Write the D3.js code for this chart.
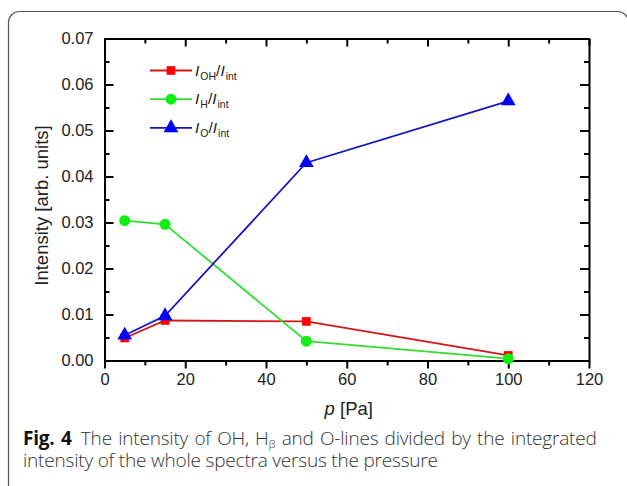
<!DOCTYPE html>
<html>
<head>
<meta charset="utf-8">
<script src="https://cdn.jsdelivr.net/npm/d3@7"></script>
<style>
  body { margin: 0; background: #fff; }
  svg { display: block; }
</style>
</head>
<body>
<div id="chart"></div>
<script>
// pressure values and the three ratio series
var pressure = [5, 15, 50, 100];
var ohInt = [0.0049, 0.0087, 0.0085, 0.0011];
var hInt = [0.0304, 0.0296, 0.0042, 0.0004];
var oInt = [0.0055, 0.0097, 0.0430, 0.0564];

var xTicks = [0, 20, 40, 60, 80, 100, 120];
var yTicks = [0, 0.01, 0.02, 0.03, 0.04, 0.05, 0.06, 0.07];

var width = 627, height = 486;
var margin = { top: 38.5, right: 38, bottom: 125.5, left: 104.5 };

var svg = d3.select("#chart").append("svg")
    .attr("width", width)
    .attr("height", height);

// rounded frame around figure
svg.append("rect")
    .attr("x", 8.5).attr("y", 11.5)
    .attr("width", 620).attr("height", 500)
    .attr("rx", 11)
    .attr("fill", "none")
    .attr("stroke", "#555")
    .attr("stroke-width", 1.2);

var x = d3.scaleLinear().domain([0, 120]).range([margin.left, width - margin.right]);
var y = d3.scaleLinear().domain([0, 0.07]).range([height - margin.bottom, margin.top]);

var fmt = d3.format(".2f");
var tickFont = "'Liberation Sans', Arial, sans-serif";

// minor ticks are halfway between majors
var xMinor = d3.range(10, 120, 20);
var yMinor = d3.range(0.005, 0.07, 0.01);

function styleAxis(g) {
    g.selectAll("path").attr("stroke", "#000").attr("stroke-width", 2);
    g.selectAll("line").attr("stroke", "#000").attr("stroke-width", 2);
    g.selectAll("text").attr("font-family", tickFont).attr("font-size", 16.5).attr("fill", "#222");
}

// bottom axis, ticks outward
svg.append("g")
    .attr("transform", "translate(0," + y(0) + ")")
    .call(d3.axisBottom(x).tickValues(xTicks).tickSize(8).tickSizeOuter(0).tickPadding(5))
    .call(styleAxis);
svg.append("g")
    .attr("transform", "translate(0," + y(0) + ")")
    .call(d3.axisBottom(x).tickValues(xMinor).tickSize(5).tickFormat(""))
    .call(styleAxis)
    .select("path").remove();

// top axis, ticks inward
svg.append("g")
    .attr("transform", "translate(0," + y(0.07) + ")")
    .call(d3.axisTop(x).tickValues(xTicks).tickSize(-8).tickSizeOuter(0).tickFormat(""))
    .call(styleAxis);
svg.append("g")
    .attr("transform", "translate(0," + y(0.07) + ")")
    .call(d3.axisTop(x).tickValues(xMinor).tickSize(-5).tickFormat(""))
    .call(styleAxis)
    .select("path").remove();

// left axis, ticks inward
svg.append("g")
    .attr("transform", "translate(" + x(0) + ",0)")
    .call(d3.axisLeft(y).tickValues(yTicks).tickFormat(fmt).tickSize(-9).tickSizeOuter(0).tickPadding(11))
    .call(styleAxis);
svg.append("g")
    .attr("transform", "translate(" + x(0) + ",0)")
    .call(d3.axisLeft(y).tickValues(yMinor).tickSize(-5).tickFormat(""))
    .call(styleAxis)
    .select("path").remove();

// right axis, ticks inward
svg.append("g")
    .attr("transform", "translate(" + x(120) + ",0)")
    .call(d3.axisRight(y).tickValues(yTicks).tickSize(-9).tickSizeOuter(0).tickFormat(""))
    .call(styleAxis);
svg.append("g")
    .attr("transform", "translate(" + x(120) + ",0)")
    .call(d3.axisRight(y).tickValues(yMinor).tickSize(-5).tickFormat(""))
    .call(styleAxis)
    .select("path").remove();

// axis titles
svg.append("text")
    .attr("transform", "translate(48," + ((y(0) + y(0.07)) / 2 + 6) + ") rotate(-90)")
    .attr("text-anchor", "middle")
    .attr("font-family", tickFont)
    .attr("font-size", 18.5)
    .attr("fill", "#222")
    .text("Intensity [arb. units]");

var xt = svg.append("text")
    .attr("x", (x(0) + x(120)) / 2 + 2)
    .attr("y", 415)
    .attr("text-anchor", "middle")
    .attr("font-family", tickFont)
    .attr("font-size", 18.5)
    .attr("fill", "#222");
xt.append("tspan").attr("font-style", "italic").text("p");
xt.append("tspan").text(" [Pa]");

var series = [
    { name: "OH", values: ohInt, line: "#d01818", fill: "#ff0000", shape: d3.symbolSquare, size: 75 },
    { name: "H", values: hInt, line: "#33dd33", fill: "#11ee11", shape: d3.symbolCircle, size: 95 },
    { name: "O", values: oInt, line: "#1515c0", fill: "#0000ff", shape: d3.symbolTriangle, size: 95 }
];

var line = d3.line()
    .x(function (d) { return x(d[0]); })
    .y(function (d) { return y(d[1]); });

series.forEach(function (s) {
    var pts = pressure.map(function (p, i) { return [p, s.values[i]]; });
    svg.append("path")
        .datum(pts)
        .attr("fill", "none")
        .attr("stroke", s.line)
        .attr("stroke-width", 1.8)
        .attr("d", line);
    svg.append("g").selectAll("path")
        .data(pts)
        .enter().append("path")
        .attr("transform", function (d) { return "translate(" + x(d[0]) + "," + y(d[1]) + ")"; })
        .attr("d", d3.symbol().type(s.shape).size(s.size))
        .attr("fill", s.fill);
});

// legend
var legend = svg.append("g");
series.forEach(function (s, i) {
    var ly = 70.5 + i * 28.7;
    legend.append("line")
        .attr("x1", 150).attr("x2", 192)
        .attr("y1", ly).attr("y2", ly)
        .attr("stroke", s.line).attr("stroke-width", 1.8);
    legend.append("path")
        .attr("transform", "translate(171," + ly + ")")
        .attr("d", d3.symbol().type(s.shape).size(s.size))
        .attr("fill", s.fill);
    var t = legend.append("text")
        .attr("x", 195).attr("y", ly + 5)
        .attr("font-family", tickFont)
        .attr("font-size", 15.5)
        .attr("fill", "#222");
    t.append("tspan").attr("font-style", "italic").text("I");
    t.append("tspan").attr("font-size", 10.5).attr("dx", 1).attr("dy", 4).text(s.name);
    t.append("tspan").attr("dy", -4).text("/");
    t.append("tspan").attr("font-style", "italic").text("I");
    t.append("tspan").attr("font-size", 10.5).attr("dx", 1).attr("dy", 4).text("int");
});

// caption, first line justified to the right edge like the journal layout
var capFont = "'Open Sans', 'Noto Sans', sans-serif";
var capLeft = 23, capRight = 595;
var c1 = svg.append("text")
    .attr("x", capLeft).attr("y", 445)
    .attr("font-family", capFont)
    .attr("font-size", 19)
    .attr("font-weight", 300)
    .attr("letter-spacing", -0.2)
    .attr("fill", "#333");
c1.append("tspan").attr("font-weight", "bold").attr("fill", "#111").text("Fig. 4");
c1.append("tspan").text("\u2002The intensity of OH, H");
c1.append("tspan").attr("font-size", 11.5).attr("dy", 3).text("\u03b2");
c1.append("tspan").attr("dy", -3).text(" and O-lines divided by the integrated");

var natural = c1.node().getComputedTextLength();
var gaps = 10;
c1.attr("word-spacing", Math.max(0, (capRight - capLeft - natural) / gaps));

svg.append("text")
    .attr("x", capLeft).attr("y", 467)
    .attr("font-family", capFont)
    .attr("font-size", 19)
    .attr("font-weight", 300)
    .attr("letter-spacing", -0.2)
    .attr("fill", "#333")
    .text("intensity of the whole spectra versus the pressure");
</script>
</body>
</html>
